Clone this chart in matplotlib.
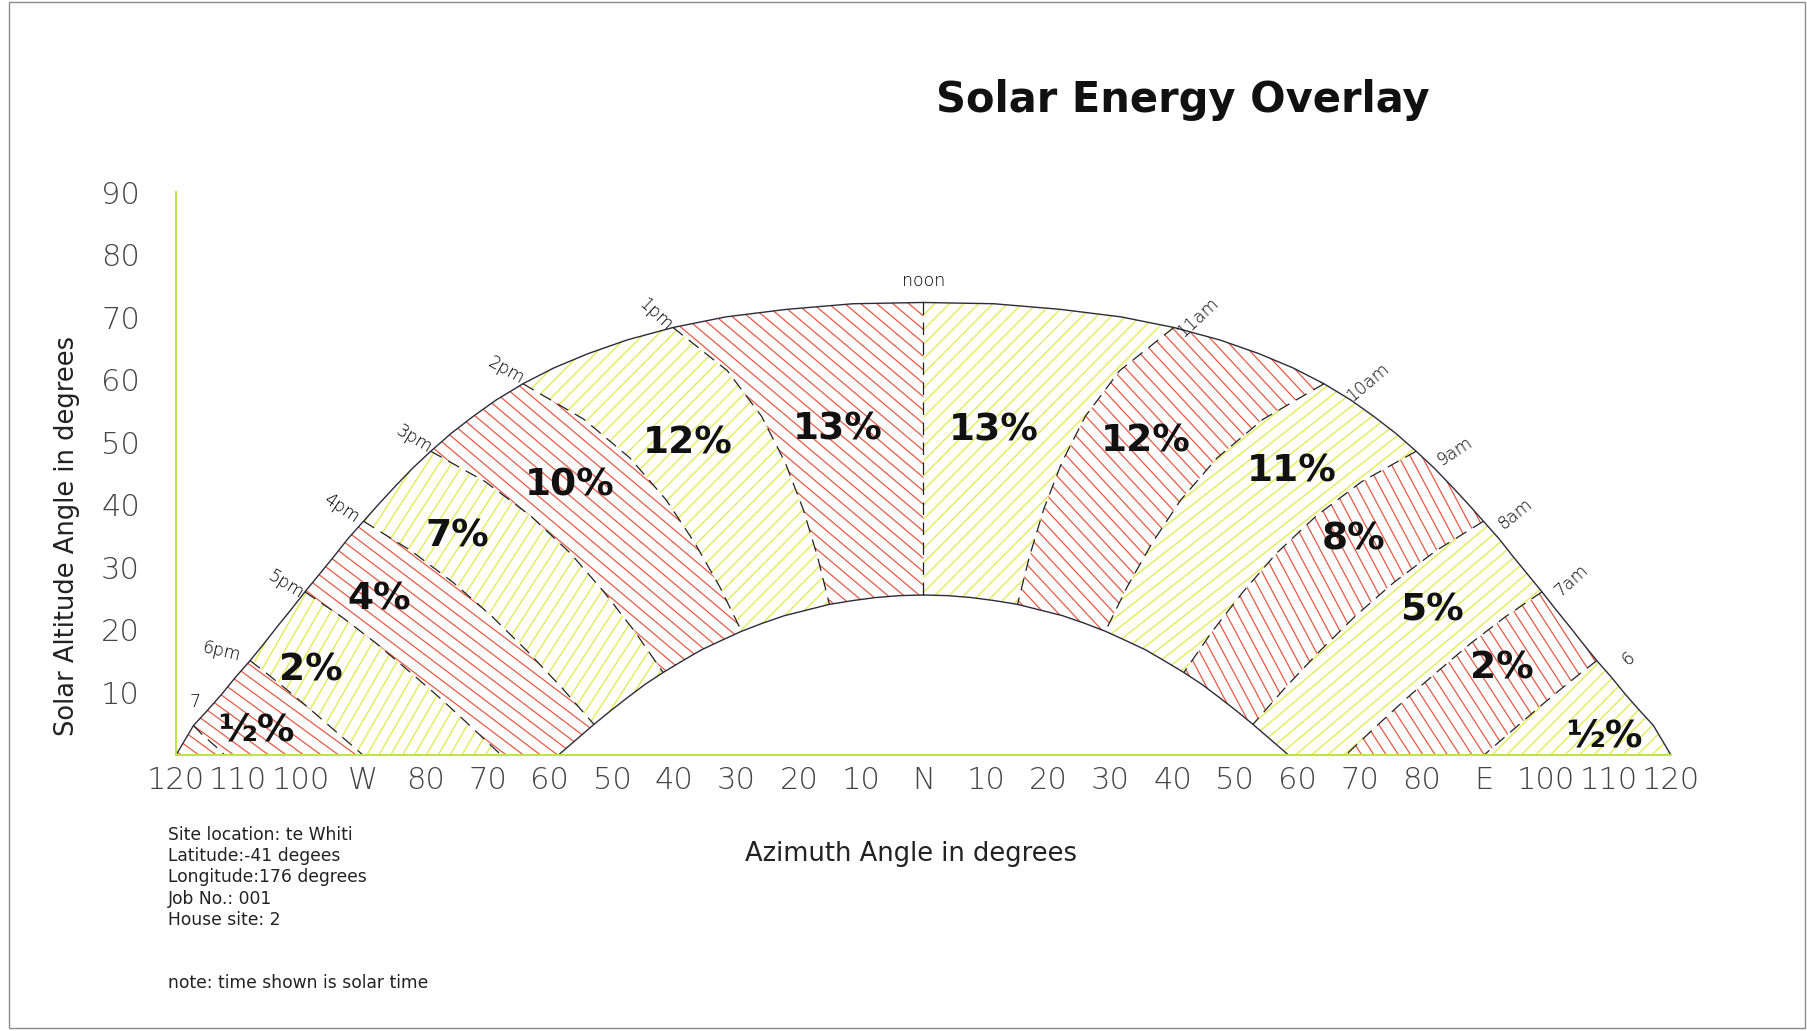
import numpy as np
import matplotlib
matplotlib.use("Agg")
import matplotlib.pyplot as plt
from matplotlib.patches import Polygon, Rectangle
from matplotlib.collections import LineCollection

# sun path for the site, read off the overlay (azimuth from north, altitude)
# summer solstice arc, noon -> sunset in quarter hours
sum_az = [0.0, 11.3, 22.0, 31.7, 40.2, 47.6, 53.9, 59.4, 64.3, 68.6, 72.4, 75.9,
          79.1, 82.0, 84.8, 87.4, 89.9, 92.4, 94.7, 97.0, 99.3, 101.5, 103.7,
          105.9, 108.1, 110.4, 112.6, 114.9, 117.2, 120.0]
sum_alt = [72.4, 72.2, 71.3, 70.1, 68.4, 66.4, 64.2, 61.9, 59.4, 56.8, 54.1, 51.4,
           48.6, 45.9, 43.0, 40.2, 37.4, 34.6, 31.7, 28.9, 26.1, 23.3, 20.6,
           17.8, 15.1, 12.5, 9.8, 7.2, 4.7, 0.0]
# winter solstice arc
win_az = [0.0, 3.8, 7.6, 11.4, 15.1, 18.7, 22.3, 25.8, 29.2, 32.5, 35.7, 38.8,
          41.8, 44.7, 47.5, 50.2, 52.9, 58.6]
win_alt = [25.6, 25.5, 25.2, 24.7, 24.1, 23.2, 22.3, 21.1, 19.8, 18.3, 16.8, 15.0,
           13.2, 11.3, 9.2, 7.1, 4.9, 0.0]

# hour lines, summer end -> winter end (or horizon)
h0_az, h0_alt = [0.0, 0.0], [72.4, 25.6]
h1_az = [40.2, 31.5, 26.0, 22.2, 19.3, 17.0, 15.1]
h1_alt = [68.4, 61.5, 54.2, 46.8, 39.3, 31.7, 24.1]
h2_az = [64.3, 54.5, 47.1, 41.3, 36.7, 32.7, 29.2]
h2_alt = [59.4, 53.7, 47.5, 40.8, 33.9, 26.9, 19.8]
h3_az = [79.1, 70.3, 63.0, 56.7, 51.3, 46.3, 41.8]
h3_alt = [48.6, 43.7, 38.2, 32.3, 26.1, 19.7, 13.2]
h4_az = [89.9, 82.3, 75.5, 69.3, 63.5, 58.1, 52.9]
h4_alt = [37.4, 32.7, 27.6, 22.2, 16.5, 10.8, 4.9]
h5_az = [99.3, 93.4, 87.9, 82.7, 77.6, 72.7, 67.8]
h5_alt = [26.1, 22.1, 17.9, 13.5, 9.1, 4.6, 0.0]
h6_az = [108.1, 105.0, 101.9, 98.9, 95.9, 93.0, 90.0]
h6_alt = [15.1, 12.7, 10.2, 7.7, 5.1, 2.6, 0.0]
h7_az = [117.2, 116.4, 115.6, 114.7, 113.9, 113.0, 112.2]
h7_alt = [4.7, 3.9, 3.1, 2.3, 1.6, 0.8, 0.0]
sunset_az, sunset_alt = [120.0], [0.0]

pm_pct = ['13%', '12%', '10%', '7%', '4%', '2%', '½%']
am_pct = ['13%', '12%', '11%', '8%', '5%', '2%', '½%']
pm_hours = ['1pm', '2pm', '3pm', '4pm', '5pm', '6pm', '7']
am_hours = ['11am', '10am', '9am', '8am', '7am', '6']

xtick_vals = list(range(-120, 121, 10))
xtick_text = ['120', '110', '100', 'W', '80', '70', '60', '50', '40', '30', '20', '10', 'N',
              '10', '20', '30', '40', '50', '60', '70', '80', 'E', '100', '110', '120']
ytick_vals = [10, 20, 30, 40, 50, 60, 70, 80, 90]

site_info = ["Site location: te Whiti", "Latitude:-41 degees", "Longitude:176 degrees",
             "Job No.: 001", "House site: 2"]

# styling / layout
RED = '#e65a45'
YEL = '#e2ea44'
GREEN = '#bde34a'
pm_col = [RED, YEL, RED, YEL, RED, YEL, RED]
am_col = [YEL, RED, YEL, RED, YEL, RED, YEL]
pm_ang = [-40, 45, -40, 57, -37, 60, -36]
am_ang = [45, -47, 38, -62, 40, -57, 45]
pm_lab = [(-13.7, 52.0), (-37.9, 49.9), (-56.8, 43.1), (-74.9, 34.9), (-87.3, 24.8),
          (-98.3, 13.5), (-107.1, 3.9)]
am_lab = [(11.3, 51.9), (35.7, 50.1), (59.1, 45.4), (69.0, 34.5), (81.6, 23.1),
          (92.9, 13.8), (109.4, 2.9)]
pm_hpos = [(-43.1, 70.5, -43), (-67.0, 61.5, -29), (-81.8, 50.5, -31), (-93.4, 39.4, -34),
           (-102.4, 27.3, -32), (-112.7, 16.6, -13), (-117.0, 8.5, 0)]
am_hpos = [(44.1, 70.0, 43), (71.4, 59.7, 40), (85.3, 48.6, 33), (95.0, 38.5, 39),
           (104.0, 28.0, 42), (113.2, 15.4, 40)]
SPACING = 1.65

sum_a = np.array(sum_az); sum_h = np.array(sum_alt)
low_a = np.array(win_az + sunset_az); low_h = np.array(win_alt + sunset_alt)
hours = [(h0_az, h0_alt), (h1_az, h1_alt), (h2_az, h2_alt), (h3_az, h3_alt),
         (h4_az, h4_alt), (h5_az, h5_alt), (h6_az, h6_alt)]
last = (sunset_az, sunset_alt)


def band_outline(la, lb):
    a0, a1 = la[0][0], lb[0][0]
    m = (sum_a > a0) & (sum_a < a1)
    xs = [a0] + list(sum_a[m]) + [a1] + list(lb[0][1:])
    ys = [la[1][0]] + list(sum_h[m]) + [lb[1][0]] + list(lb[1][1:])
    e0, e1 = la[0][-1], lb[0][-1]
    m2 = (low_a > e0) & (low_a < e1)
    xs += list(low_a[m2][::-1]) + list(la[0][::-1][:-1])
    ys += list(low_h[m2][::-1]) + list(la[1][::-1][:-1])
    return np.array(xs), np.array(ys)


def hatch(ax, xs, ys, ang, color):
    pts = np.column_stack([xs, ys])
    poly = Polygon(pts, closed=True, fc='none', ec='none')
    ax.add_patch(poly)
    t = np.radians(ang)
    d = np.array([np.cos(t), np.sin(t)])
    n = np.array([-np.sin(t), np.cos(t)])
    proj = pts @ n
    cx = pts.mean(axis=0)
    L = np.ptp(pts, axis=0).sum() + 5
    segs = []
    for c in np.arange(proj.min() + 0.5, proj.max(), SPACING):
        p = cx + (c - cx @ n) * n
        segs.append([p - L * d, p + L * d])
    lc = LineCollection(segs, colors=color, linewidths=0.9)
    lc.set_clip_path(poly)
    ax.add_collection(lc, autolim=False)


fig = plt.figure(figsize=(18.07, 10.31), dpi=100)
ax = fig.add_axes([0.0974, 0.2677, 0.8273, 0.5456])

for side in (-1, 1):
    cols = pm_col if side < 0 else am_col
    angs = pm_ang if side < 0 else am_ang
    for k in range(7):
        lb = hours[k + 1] if k < 6 else last
        xs, ys = band_outline(hours[k], lb)
        hatch(ax, side * xs, ys, angs[k], cols[k])

# arcs and hour lines
for side in (-1, 1):
    ax.plot(side * sum_a, sum_h, color='#2b2b3a', lw=1.0)
    ax.plot(side * np.array(win_az), win_alt, color='#2b2b3a', lw=1.0)
    hl = hours[1:] + ([(h7_az, h7_alt)] if side < 0 else [])
    for az, alt in hl:
        ax.plot(side * np.array(az), alt, color='#222222', lw=0.9, ls=(0, (10, 6)))
ax.plot(h0_az, h0_alt, color='#222222', lw=0.9, ls=(0, (10, 6)))

for (x, y), s in zip(pm_lab, pm_pct):
    ax.text(x, y, s, ha='center', va='center', fontsize=27, fontweight='bold', color='#111111')
for (x, y), s in zip(am_lab, am_pct):
    ax.text(x, y, s, ha='center', va='center', fontsize=27, fontweight='bold', color='#111111')

hfont = dict(fontsize=12.5, color='#000000', ha='center', va='center', fontweight=200)
ax.text(0, 75.8, 'noon', **hfont)
for (x, y, r), s in zip(pm_hpos, pm_hours):
    ax.text(x, y, s, rotation=r, rotation_mode='anchor', **hfont)
for (x, y, r), s in zip(am_hpos, am_hours):
    ax.text(x, y, s, rotation=r, rotation_mode='anchor', **hfont)

ax.set_xlim(-120, 120)
ax.set_ylim(0, 90)
for sp in ('top', 'right'):
    ax.spines[sp].set_visible(False)
for sp in ('left', 'bottom'):
    ax.spines[sp].set_color(GREEN)
    ax.spines[sp].set_linewidth(1.4)
ax.set_xticks(xtick_vals)
ax.set_xticklabels(xtick_text)
ax.set_yticks(ytick_vals)
ax.tick_params(length=0, labelsize=22, labelcolor='#444444')
ax.tick_params(axis='y', pad=26)
ax.tick_params(axis='x', pad=8)
for lab in ax.get_xticklabels() + ax.get_yticklabels():
    lab.set_fontweight(200)

fig.text(1183 / 1807, 1 - 100 / 1031, 'Solar Energy Overlay', ha='center', va='center',
         fontsize=30, fontweight='bold', color='#111111')
fig.text(67 / 1807, 1 - 536 / 1031, 'Solar Altitude Angle in degrees', rotation=90,
         ha='center', va='center', fontsize=18.5, color='#222222')
fig.text(911 / 1807, 1 - 854 / 1031, 'Azimuth Angle in degrees', ha='center', va='center',
         fontsize=18.5, color='#222222')
for i, s in enumerate(site_info):
    fig.text(168 / 1807, 1 - (835 + 21.2 * i) / 1031, s, ha='left', va='center',
             fontsize=12.3, color='#222222')
fig.text(168 / 1807, 1 - 983 / 1031, 'note: time shown is solar time', ha='left',
         va='center', fontsize=12.3, color='#222222')

fig.patches.append(Rectangle((9 / 1807, 3 / 1031), 1 - 11 / 1807, 1 - 5 / 1031,
                             transform=fig.transFigure, fill=False, ec='#8a8a8a', lw=1.0))

fig.savefig('out.png')
